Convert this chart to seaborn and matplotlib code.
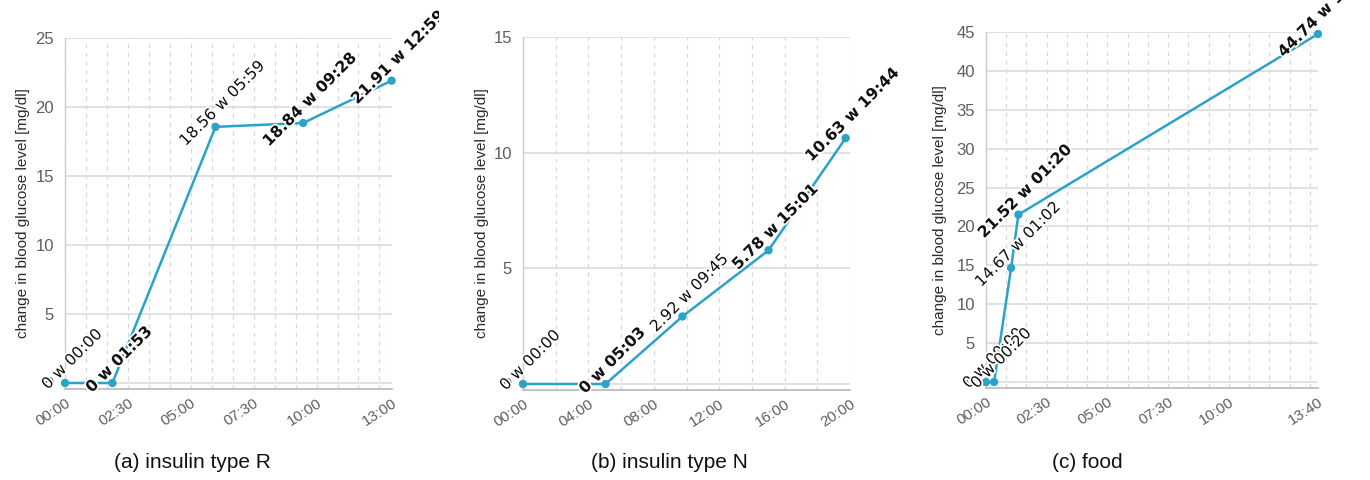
import matplotlib
matplotlib.use("Agg")
import matplotlib.pyplot as plt
import matplotlib.patheffects as pe
from matplotlib.transforms import Bbox, TransformedBbox
import numpy as np
import pandas as pd
import seaborn as sns

# ---------------- data ----------------
a_times = ["00:00", "01:53", "05:59", "09:28", "12:59"]
a_values = [0, 0, 18.56, 18.84, 21.91]
b_times = ["00:00", "05:03", "09:45", "15:01", "19:44"]
b_values = [0, 0, 2.92, 5.78, 10.63]
c_times = ["00:00", "00:20", "01:02", "01:20", "13:40"]
c_values = [0, 0, 14.67, 21.52, 44.74]

a_xticks = ["00:00", "02:30", "05:00", "07:30", "10:00", "13:00"]
b_xticks = ["00:00", "04:00", "08:00", "12:00", "16:00", "20:00"]
c_xticks = ["00:00", "02:30", "05:00", "07:30", "10:00", "13:40"]

a_yticks = [0, 5, 10, 15, 20, 25]
b_yticks = [0, 5, 10, 15]
c_yticks = [0, 5, 10, 15, 20, 25, 30, 35, 40, 45]

captions = ["(a) insulin type R", "(b) insulin type N", "(c) food"]
ylabel = "change in blood glucose level [mg/dl]"

# ---------------- style ----------------
sns.set_style("white")
plt.rcParams["font.family"] = ["Liberation Sans", "DejaVu Sans"]

LINE = "#2ba2c8"
VGRID = "#d3d9e0"
HGRID = "#d9d9d9"
AXIS = "#b8b8b8"


def to_hours(t):
    h, m = t.split(":")
    return int(h) + int(m) / 60.0


W, H = 1370, 480
fig = plt.figure(figsize=(W / 100, H / 100), dpi=100)

# (left, top, right, bottom) in pixels, minor grid step (h), label weights, clip x
panels = [
    dict(times=a_times, values=a_values, xticks=a_xticks, yticks=a_yticks,
         box=(65, 38, 392, 389), minor=5 / 6, clipx=439, xmax="13:00",
         weights=["normal", "bold", "normal", "bold", "bold"], ylab_off=35),
    dict(times=b_times, values=b_values, xticks=b_xticks, yticks=b_yticks,
         box=(523, 37, 850, 390), minor=2.0, clipx=900, xmax="20:00",
         weights=["normal", "bold", "normal", "bold", "bold"], ylab_off=34),
    dict(times=c_times, values=c_values, xticks=c_xticks, yticks=c_yticks,
         box=(986, 32, 1318, 388), minor=5 / 6, clipx=1370, xmax="13:40",
         weights=["normal", "normal", "normal", "bold", "bold"], ylab_off=39),
]
caption_x = [192, 669, 1087]

for i, p in enumerate(panels):
    l, t, r, b = p["box"]
    ax = fig.add_axes([l / W, 1 - b / H, (r - l) / W, (b - t) / H])
    df = pd.DataFrame({"h": [to_hours(s) for s in p["times"]], "v": p["values"]})
    xmax = to_hours(p["xmax"])
    ytop = max(p["yticks"])
    hpx = b - t
    pad = ytop * 6.0 / (hpx - 6.0)

    # grid
    mx = np.arange(0, xmax + 1e-6, p["minor"])
    mx = np.unique(np.append(mx, xmax))
    for x in mx:
        ax.axvline(x, color=VGRID, lw=0.9, ls=(0, (3.5, 3.5)), zorder=0)
    for y in p["yticks"]:
        ax.axhline(y, color=HGRID, lw=1.1, zorder=0)

    sns.lineplot(data=df, x="h", y="v", ax=ax, color=LINE, lw=1.8,
                 zorder=3, legend=False)
    sns.scatterplot(data=df, x="h", y="v", ax=ax, color=LINE, s=36,
                    edgecolor="none", zorder=4, legend=False, clip_on=False)

    ax.set_xlim(0, xmax)
    ax.set_ylim(-pad, ytop)
    ax.set_xticks([to_hours(s) for s in p["xticks"]])
    ax.set_xticklabels(p["xticks"], rotation=33, ha="right",
                       rotation_mode="anchor", color="#5e5e5e", fontsize=11)
    ax.set_yticks(p["yticks"])
    ax.set_yticklabels([str(y) for y in p["yticks"]], color="#5e5e5e", fontsize=12)
    ax.tick_params(axis="both", length=0)
    ax.tick_params(axis="x", pad=5)
    ax.tick_params(axis="y", pad=8)
    ax.set_xlabel("")
    ax.set_ylabel(ylabel, fontsize=11, color="#2a2a2a")
    ax.yaxis.set_label_coords(-p["ylab_off"] / (r - l), 0.5)

    for side in ["top", "right"]:
        ax.spines[side].set_visible(False)
    ax.spines["bottom"].set_color(AXIS)
    ax.spines["bottom"].set_linewidth(1.2)
    ax.spines["left"].set_color("#cccccc")
    ax.spines["left"].set_linewidth(1.0)

    clip = TransformedBbox(Bbox([[0, 0], [p["clipx"] / W, 1]]), fig.transFigure)
    for (hh, vv, ts, wt) in zip(df["h"], df["v"], p["times"], p["weights"]):
        txt = ax.annotate(f"{vv:g} w {ts}", xy=(hh, vv), xytext=(5, 17),
                          textcoords="offset points", rotation=45,
                          ha="center", va="center", fontsize=11.3,
                          family="DejaVu Sans", color="#111111", fontweight=wt,
                          annotation_clip=False, zorder=6)
        txt.set_path_effects([pe.withStroke(linewidth=2.5, foreground="white")])
        txt.set_clip_on(True)
        txt.set_clip_box(clip)

    fig.text(caption_x[i] / W, 1 - 463 / H, captions[i], ha="center",
             va="center", fontsize=15, color="#111111")

fig.savefig("out.png", dpi=100)
